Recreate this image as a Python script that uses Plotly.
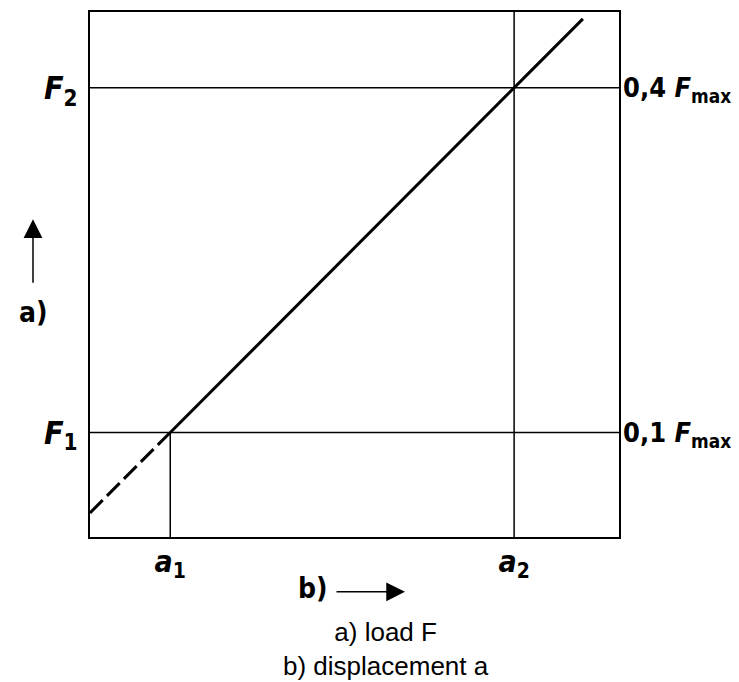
import plotly.graph_objects as go

# displacement a (arbitrary units), load F as fraction of Fmax
a_range = [0.30, 4.915]
F_range = [0.009, 0.466]

a_ticks = [1, 4]
a_labels = ['<i>a</i><sub>1</sub>', '<i>a</i><sub>2</sub>']
F_ticks = [0.1, 0.4]
F_labels_left = ['<i>F</i><sub>1</sub>', '<i>F</i><sub>2</sub>']
F_labels_right = ['0,1 <i>F</i><sub>max</sub>', '0,4 <i>F</i><sub>max</sub>']

# load-displacement line, dashed extrapolation below F1
a_dash = [0.30, 1.0]
F_dash = [0.030, 0.10]
a_solid = [1.0, 4.6]
F_solid = [0.10, 0.46]

din = 'DejaVu Sans Condensed, DejaVu Sans, Liberation Sans Narrow, Arial'

fig = go.Figure()

# horizontal lines at F1 and F2 (full width)
for f in F_ticks:
    fig.add_trace(go.Scatter(x=a_range, y=[f, f], mode='lines', yaxis='y2',
                             line=dict(color='black', width=1.5), hoverinfo='skip'))

# vertical line at a2 (full height), a1 only up to F1
fig.add_trace(go.Scatter(x=[a_ticks[1], a_ticks[1]], y=F_range, mode='lines',
                         line=dict(color='black', width=1.5), hoverinfo='skip'))
fig.add_trace(go.Scatter(x=[a_ticks[0], a_ticks[0]], y=[F_range[0], F_ticks[0]], mode='lines',
                         line=dict(color='black', width=1.5), hoverinfo='skip'))

fig.add_trace(go.Scatter(x=a_dash, y=F_dash, mode='lines',
                         line=dict(color='black', width=3, dash='18px,6px')))
fig.add_trace(go.Scatter(x=a_solid, y=F_solid, mode='lines',
                         line=dict(color='black', width=3)))

# page body has an 8px margin, so the figure is shrunk by that amount
OFF = 8
W, H = 739 - OFF, 682 - OFF
L, R, T, B = 90 - OFF, 120, 10 - OFF, 145
pw, ph = W - L - R, H - T - B


def px(x):
    return (x - OFF - L) / pw


def py(y):
    return (H - B - (y - OFF)) / ph


fig.update_layout(
    width=W, height=H,
    margin=dict(l=L, r=R, t=T, b=B),
    paper_bgcolor='white', plot_bgcolor='white',
    showlegend=False,
    xaxis=dict(range=a_range, tickvals=a_ticks, ticktext=a_labels, showgrid=False,
               zeroline=False, showline=True, mirror=True, linecolor='black', linewidth=2,
               ticks='', ticklabelstandoff=-3,
               tickfont=dict(family=din, size=30, color='black', weight='bold')),
    yaxis=dict(range=F_range, tickvals=F_ticks, ticktext=F_labels_left, showgrid=False,
               zeroline=False, showline=True, mirror=True, linecolor='black', linewidth=2,
               ticks='', ticklabelstandoff=4,
               tickfont=dict(family=din, size=32, color='black', weight='bold')),
    yaxis2=dict(range=F_range, tickvals=F_ticks, ticktext=F_labels_right, overlaying='y',
                side='right', showgrid=False, zeroline=False, showline=False,
                ticks='', ticklabelstandoff=3,
                tickfont=dict(family=din, size=27, color='black', weight='bold')),
)

# axis arrows and letters
fig.add_annotation(xref='paper', yref='paper', x=px(33), y=py(218), ax=0, ay=65,
                   text='', showarrow=True, arrowhead=2, arrowsize=2.5, arrowwidth=1.5,
                   arrowcolor='black')
fig.add_annotation(xref='paper', yref='paper', x=px(33), y=py(312), text='a)',
                   xanchor='center', yanchor='middle', showarrow=False,
                   font=dict(family=din, size=28, color='black', weight='bold'))
fig.add_annotation(xref='paper', yref='paper', x=px(405), y=py(592), ax=-70, ay=0,
                   text='', showarrow=True, arrowhead=2, arrowsize=2.5, arrowwidth=1.5,
                   arrowcolor='black')
fig.add_annotation(xref='paper', yref='paper', x=px(313), y=py(589), text='b)',
                   xanchor='center', yanchor='middle', showarrow=False,
                   font=dict(family=din, size=28, color='black', weight='bold'))

# caption
fig.add_annotation(xref='paper', yref='paper', x=px(386), y=py(649),
                   xanchor='center', yanchor='middle',
                   text='a) load F<br>b) displacement a', showarrow=False,
                   align='center', font=dict(family='Liberation Sans, Arial', size=26, color='black'))

fig.write_html("out.html")
